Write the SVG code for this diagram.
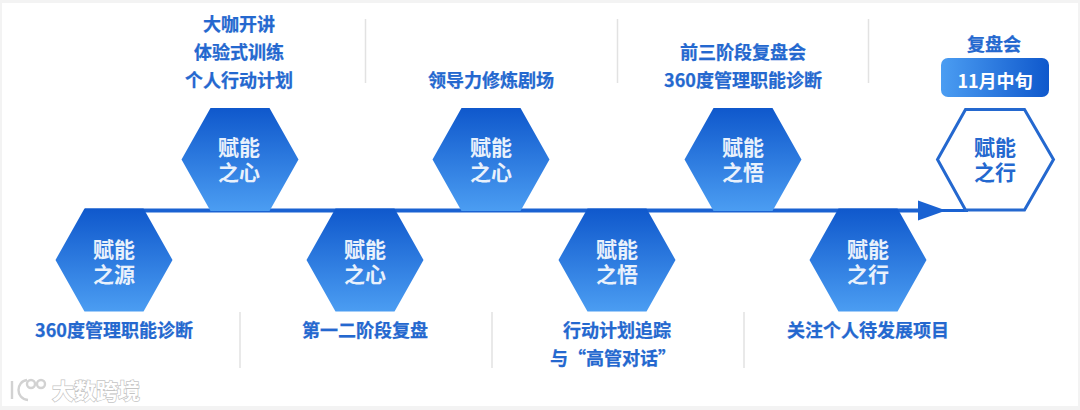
<svg xmlns="http://www.w3.org/2000/svg" width="1080" height="410" viewBox="0 0 1080 410">
<style>
text{font-family:"Noto Sans CJK SC","Noto Sans",sans-serif;text-anchor:middle}
.l{font-size:18px;font-weight:700;fill:#2468cf;stroke:#2468cf;stroke-width:.25}
.h{font-size:21px;font-weight:700;fill:#e9f1fc}
.o{fill:#2468cf}
.d{stroke:#e2e2e2;stroke-width:1.5;fill:none}
.wm{font-size:22px;font-weight:700;fill:#fff;stroke:#c4c4c4;stroke-width:1.4;paint-order:stroke;text-anchor:start}
.lg{fill:none;stroke:#d2d2d2;stroke-width:2.4}
</style>
<defs>
<linearGradient id="g" x1="0" y1="0" x2="0" y2="1"><stop offset="0" stop-color="#0f58cc"/><stop offset="1" stop-color="#4b9df2"/></linearGradient>
<linearGradient id="p" x1="0" y1="0" x2="1" y2="0"><stop offset="0" stop-color="#4b9df2"/><stop offset="1" stop-color="#0f58cc"/></linearGradient>
<polygon id="hx" points="-29.500,-51.500 29.500,-51.500 58.500,0 29.500,51.500 -29.500,51.500 -58.500,0"/>
</defs>
<rect width="1080" height="410" fill="#f3f3f3"/>
<rect x="2" y="3" width="1076" height="403" fill="#fff"/>
<g id="connectors">
<rect x="85" y="208.500" width="840" height="4" fill="#1a62d2"/>
<path d="M925 210.500H968" stroke="#1a62d2" stroke-width="3" fill="none"/>
<polygon points="918,200.500 946,210.500 918,220.500" fill="#1a62d2"/>
</g>
<g id="dividers">
<path class="d" d="M365.500 19V83M617.500 19V83M868.500 19V83M240 312V368M492 312V368M744 312V368"/>
</g>
<g id="n1"><use href="#hx" x="114" y="260" fill="url(#g)"/><text class="h" x="114" y="257">赋能<tspan x="114" dy="25">之源</tspan></text><text class="l" x="114" y="337">360度管理职能诊断</text></g>
<g id="n2"><use href="#hx" x="240" y="159.500" fill="url(#g)"/><text class="h" x="239" y="155">赋能<tspan x="239" dy="25">之心</tspan></text><text class="l" x="239" y="31">大咖开讲<tspan x="239" dy="28">体验式训练</tspan><tspan x="239" dy="28">个人行动计划</tspan></text></g>
<g id="n3"><use href="#hx" x="365" y="260" fill="url(#g)"/><text class="h" x="365" y="257">赋能<tspan x="365" dy="25">之心</tspan></text><text class="l" x="365" y="337">第一二阶段复盘</text></g>
<g id="n4"><use href="#hx" x="491" y="159.500" fill="url(#g)"/><text class="h" x="491" y="155">赋能<tspan x="491" dy="25">之心</tspan></text><text class="l" x="491" y="87">领导力修炼剧场</text></g>
<g id="n5"><use href="#hx" x="617" y="260" fill="url(#g)"/><text class="h" x="617" y="257">赋能<tspan x="617" dy="25">之悟</tspan></text><text class="l" x="617" y="337">行动计划追踪<tspan x="613" dy="28">与“高管对话”</tspan></text></g>
<g id="n6"><use href="#hx" x="743" y="159.500" fill="url(#g)"/><text class="h" x="743" y="155">赋能<tspan x="743" dy="25">之悟</tspan></text><text class="l" x="743" y="59">前三阶段复盘会<tspan x="743" dy="28">360度管理职能诊断</tspan></text></g>
<g id="n7"><use href="#hx" x="868" y="260" fill="url(#g)"/><text class="h" x="868" y="257">赋能<tspan x="868" dy="25">之行</tspan></text><text class="l" x="868" y="337">关注个人待发展项目</text></g>
<g id="n8"><polygon points="965.500,109.500 1024.500,109.500 1053.500,159.500 1024.500,210 965.500,210 937.500,159.500" fill="#fff" stroke="#2468cf" stroke-width="3"/><text class="h o" x="995" y="155">赋能<tspan x="995" dy="25">之行</tspan></text><text class="l" x="994" y="51">复盘会</text><rect x="941" y="58" width="108" height="39" rx="7" fill="url(#p)"/><text x="995" y="88" style="font-size:18px;font-weight:700;fill:#fff">11月中旬</text></g>
<g id="watermark"><path class="lg" d="M12 381V399M27 380C16 381 15 399 28 400"/><circle class="lg" cx="31" cy="384" r="4"/><circle class="lg" cx="41" cy="384" r="4"/><text class="wm" x="52" y="399">大数跨境</text></g>
</svg>
